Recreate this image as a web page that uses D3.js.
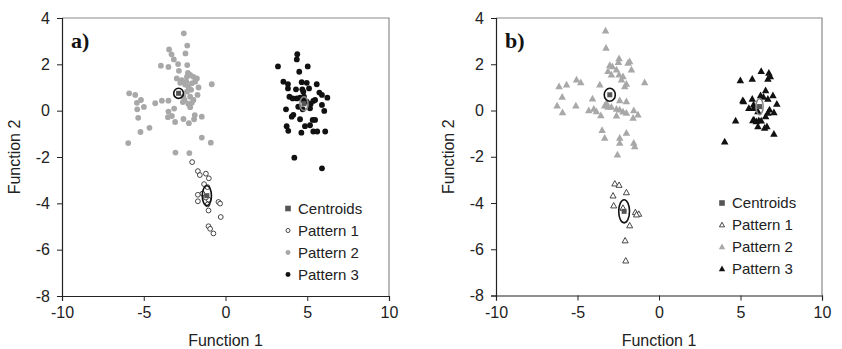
<!DOCTYPE html>
<html>
<head>
<meta charset="utf-8">
<script src="https://cdn.jsdelivr.net/npm/d3@7"></script>
<style>
  body { margin: 0; background: #fff; }
  svg { display: block; }
  text { font-family: "Liberation Sans", Arial, sans-serif; fill: #222; }
  text.tag { font-family: "Liberation Serif", "Times New Roman", serif; font-weight: bold; fill: #111; }
</style>
</head>
<body>
<svg id="chart" width="842" height="349"></svg>
<script>
// ---- Axis ticks ----
const xTicks = [-10, -5, 0, 5, 10];
const yTicks = [4, 2, 0, -2, -4, -6, -8];
const legendLabels = ['Centroids', 'Pattern 1', 'Pattern 2', 'Pattern 3'];

// ---- Panel a) : discriminant scores (circles) ----
const aPattern1 = [
  [-2.04, -2.22], [-1.69, -2.61], [-1.57, -2.78], [-1.20, -2.72], [-1.02, -2.92],
  [-1.31, -3.17], [-1.69, -3.63], [-1.41, -3.58], [-1.69, -3.91], [-1.04, -3.84],
  [-1.04, -4.31], [-0.43, -3.94], [-0.33, -4.01], [-0.29, -4.59], [-1.04, -4.99],
  [-0.94, -5.10], [-0.74, -5.30], [-1.10, -3.30], [-1.20, -3.75], [-1.10, -4.05]
];
const aPattern2 = [
  [-2.55, 3.34], [-2.34, 2.81], [-3.45, 2.64], [-3.30, 2.43], [-2.45, 2.47],
  [-3.16, 2.21], [-3.95, 1.94], [-3.49, 1.89], [-2.90, 2.01], [-2.34, 1.97],
  [-2.85, 1.72], [-2.30, 1.63], [-0.84, 1.14], [-2.98, 1.39], [-2.67, 1.32],
  [-2.36, 1.46], [-2.16, 1.54], [-1.96, 1.46], [-1.75, 1.39], [-1.65, 1.00],
  [-2.06, 1.18], [-2.27, 1.03], [-2.47, 1.13], [-2.77, 1.20], [-1.86, 1.25],
  [-2.36, 0.82], [-2.57, 0.60], [-2.16, 0.60], [-1.96, 0.46], [-2.06, 0.34],
  [-2.27, 0.29], [-1.71, 0.68], [-2.16, 0.15], [-2.61, 0.37], [-3.49, 0.43],
  [-3.89, 0.43], [-4.30, 0.32], [-5.89, 0.75], [-5.52, 0.68], [-5.17, 0.46],
  [-5.42, 0.34], [-4.99, 0.16], [-5.40, 0.06], [-3.14, 0.09], [-3.49, -0.04],
  [-3.28, -0.23], [-3.52, -0.28], [-3.08, -0.49], [-2.57, -0.36], [-2.24, -0.54],
  [-1.92, -0.37], [-1.45, -0.26], [-1.88, -0.19], [-5.34, -0.31], [-4.65, -0.74],
  [-5.20, -0.92], [-5.95, -1.40], [-1.45, -1.16], [-0.90, -1.38], [-3.06, -1.81],
  [-2.21, -1.83], [-2.40, 1.25], [-2.10, 0.90], [-2.50, 0.45]
];
const aPattern3 = [
  [4.39, 2.44], [4.36, 2.21], [3.21, 1.91], [5.03, 1.91], [4.51, 1.68],
  [3.54, 1.25], [3.82, 1.15], [3.82, 0.96], [4.66, 1.23], [4.97, 1.20],
  [5.58, 1.14], [4.31, 0.92], [4.70, 0.92], [5.11, 0.96], [4.76, 0.82],
  [5.74, 0.78], [5.90, 0.68], [6.23, 0.56], [3.91, 0.60], [4.11, 0.53],
  [4.36, 0.53], [4.56, 0.56], [4.76, 0.46], [4.97, 0.39], [5.37, 0.42],
  [5.48, 0.46], [5.21, 0.29], [4.45, 0.17], [5.17, 0.10], [5.90, 0.25],
  [3.70, 0.06], [4.72, 0.06], [6.04, -0.01], [4.15, -0.18], [4.05, -0.26],
  [4.56, -0.37], [5.33, -0.40], [5.48, -0.40], [3.74, -0.67], [4.86, -0.67],
  [5.17, -0.63], [3.84, -0.87], [4.64, -0.95], [5.37, -0.90], [5.61, -0.90],
  [6.10, -0.90], [4.21, -2.03], [5.90, -2.49], [4.80, 0.60]
];
// centroid [x, y], ellipse radii [rx, ry] in data units
const aCentroids = [
  { x: -1.14, y: -3.67, rx: 0.28, ry: 0.43, stroke: '#111' },
  { x: -2.87, y: 0.75, rx: 0.30, ry: 0.22, stroke: '#111' },
  { x: 4.80, y: 0.30, rx: 0.25, ry: 0.30, stroke: '#888' }
];

// ---- Panel b) : discriminant scores (triangles) ----
const bPattern1 = [
  [-2.71, -3.17], [-2.45, -3.23], [-2.00, -3.55], [-2.82, -3.69], [-2.78, -4.12],
  [-2.21, -4.22], [-1.45, -4.41], [-1.24, -4.48], [-1.38, -4.51], [-1.80, -4.98],
  [-2.08, -5.63], [-2.04, -6.50]
];
const bPattern2 = [
  [-3.28, 3.45], [-3.25, 2.70], [-2.45, 2.25], [-2.49, 2.08], [-3.02, 1.95],
  [-2.86, 1.90], [-1.80, 2.12], [-1.90, 2.05], [-1.69, 1.76], [-3.13, 1.69],
  [-2.61, 1.76], [-2.45, 1.54], [-2.21, 1.47], [-2.92, 1.54], [-2.30, 1.33],
  [-2.00, 1.14], [-2.10, 1.04], [-0.88, 1.21], [-3.63, 1.11], [-5.06, 1.33],
  [-4.80, 1.21], [-5.67, 1.11], [-6.13, 1.04], [-5.94, 0.58], [-6.25, 0.20],
  [-5.92, -0.09], [-5.10, 0.20], [-4.08, 0.51], [-4.31, 0.00], [-4.00, 0.06],
  [-3.84, -0.04], [-3.57, -0.22], [-3.33, 0.20], [-3.13, 0.15], [-2.92, 0.15],
  [-3.22, 0.32], [-2.00, 0.39], [-2.41, 0.43], [-2.41, 0.03], [-2.61, 0.06],
  [-2.21, -0.06], [-2.61, -0.23], [-1.55, 0.00], [-1.29, -0.19], [-1.59, -0.33],
  [-2.00, -0.11], [-3.49, -0.86], [-3.33, -1.19], [-2.00, -0.98], [-2.41, -1.19],
  [-2.41, -1.41], [-1.55, -1.41], [-1.49, -1.56], [-2.55, -1.92]
];
const bPattern3 = [
  [6.27, 1.69], [6.74, 1.62], [6.83, 1.47], [6.68, 1.36], [4.99, 1.30],
  [5.72, 1.36], [6.54, 0.86], [6.99, 0.65], [6.23, 0.65], [6.68, 0.49],
  [5.72, 0.49], [5.19, 0.39], [7.23, 0.28], [5.80, 0.25], [5.51, 0.10],
  [6.78, 0.03], [6.68, -0.11], [7.05, -0.09], [6.54, -0.26], [6.07, -0.04],
  [4.70, -0.45], [5.76, -0.43], [5.97, -0.48], [6.27, -0.45], [6.07, -0.69],
  [6.48, -0.76], [6.62, -0.69], [7.05, -1.02], [4.03, -1.35], [5.80, 0.09],
  [6.41, 0.58], [6.12, -0.43], [5.82, -0.40], [5.14, 0.43]
];
const bCentroids = [
  { x: -2.14, y: -4.36, rx: 0.33, ry: 0.50, stroke: '#111' },
  { x: -3.02, y: 0.68, rx: 0.34, ry: 0.28, stroke: '#111' },
  { x: 6.17, y: 0.17, rx: 0.22, ry: 0.35, stroke: '#888' }
];

// ---- Layout ----
const panels = [
  { tag: 'a)', left: 62, right: 389, top: 18, bottom: 296, shape: 'circle',
    p1: aPattern1, p2: aPattern2, p3: aPattern3, cents: aCentroids,
    legendX: 288, legendY: 208.5 },
  { tag: 'b)', left: 496, right: 822, top: 18, bottom: 295.5, shape: 'triangle',
    p1: bPattern1, p2: bPattern2, p3: bPattern3, cents: bCentroids,
    legendX: 722, legendY: 203 }
];

const GRAY = '#a8a8a8';
const BLACK = '#111';
const CENT = '#555';

const svg = d3.select('#chart');

function triPath(cx, cy, s) {
  const h = s * 0.9;
  return `M${cx},${cy - h * 0.6}L${cx + s / 2},${cy + h * 0.4}L${cx - s / 2},${cy + h * 0.4}Z`;
}

function drawMarker(g, shape, kind, cx, cy, scale = 1) {
  const fill = kind === 1 ? '#fff' : kind === 2 ? GRAY : BLACK;
  const stroke = kind === 1 ? '#333' : 'none';
  if (shape === 'circle') {
    g.append('circle')
      .attr('cx', cx).attr('cy', cy)
      .attr('r', (kind === 1 ? 2.4 : 2.9) * scale)
      .attr('fill', fill).attr('stroke', stroke).attr('stroke-width', 0.9);
  } else {
    g.append('path')
      .attr('d', triPath(cx, cy, (kind === 1 ? 6 : 7.5) * scale))
      .attr('fill', fill).attr('stroke', stroke).attr('stroke-width', 0.9);
  }
}

panels.forEach(p => {
  const x = d3.scaleLinear().domain([-10, 10]).range([p.left, p.right]);
  const y = d3.scaleLinear().domain([-8, 4]).range([p.bottom, p.top]);
  const g = svg.append('g');

  // frame (top/right in gray)
  g.append('path')
    .attr('d', `M${p.left},${p.top}H${p.right}V${p.bottom}`)
    .attr('fill', 'none').attr('stroke', '#8a8a8a').attr('stroke-width', 1.2);

  const xAxis = g.append('g')
    .attr('transform', `translate(0,${p.bottom})`)
    .call(d3.axisBottom(x).tickValues(xTicks).tickSize(5).tickPadding(6).tickFormat(d3.format('d')));
  const yAxis = g.append('g')
    .attr('transform', `translate(${p.left},0)`)
    .call(d3.axisLeft(y).tickValues(yTicks).tickSize(5).tickPadding(7).tickFormat(d3.format('d')));
  [xAxis, yAxis].forEach(ax => {
    ax.select('.domain').attr('stroke', '#222').attr('stroke-width', 1.2);
    ax.selectAll('.tick line').attr('stroke', '#222');
    ax.selectAll('.tick text')
      .attr('font-size', 16)
      .text(d => String(d));
  });

  // axis titles
  g.append('text')
    .attr('x', (p.left + p.right) / 2).attr('y', 346)
    .attr('text-anchor', 'middle').attr('font-size', 16)
    .text('Function 1');
  g.append('text')
    .attr('transform', `translate(${p.left - 42},${(p.top + p.bottom) / 2}) rotate(-90)`)
    .attr('text-anchor', 'middle').attr('font-size', 16)
    .text('Function 2');

  // panel tag
  g.append('text')
    .attr('class', 'tag')
    .attr('x', p.left + 9).attr('y', 48)
    .attr('font-size', 22)
    .text(p.tag);

  // points
  const pts = g.append('g');
  [[p.p2, 2], [p.p3, 3], [p.p1, 1]].forEach(([arr, kind]) => {
    arr.forEach(d => drawMarker(pts, p.shape, kind, x(d[0]), y(d[1])));
  });

  // centroids + ellipses
  p.cents.forEach(c => {
    g.append('rect')
      .attr('x', x(c.x) - 2.5).attr('y', y(c.y) - 2.5)
      .attr('width', 5).attr('height', 5)
      .attr('fill', CENT);
    g.append('ellipse')
      .attr('cx', x(c.x)).attr('cy', y(c.y))
      .attr('rx', x(c.rx) - x(0)).attr('ry', y(0) - y(c.ry))
      .attr('fill', 'none').attr('stroke', c.stroke).attr('stroke-width', 1.6);
  });

  // legend
  const leg = g.append('g').attr('transform', `translate(${p.legendX},${p.legendY})`);
  legendLabels.forEach((lab, i) => {
    const cy = i * 22;
    if (i === 0) {
      leg.append('rect').attr('x', -2.8).attr('y', cy - 2.8)
        .attr('width', 5.6).attr('height', 5.6).attr('fill', CENT);
    } else {
      drawMarker(leg, p.shape, i, 0, cy, 0.85);
    }
    leg.append('text')
      .attr('x', 10).attr('y', cy).attr('dy', '0.36em')
      .attr('font-size', 15)
      .text(lab);
  });
});
</script>
</body>
</html>
